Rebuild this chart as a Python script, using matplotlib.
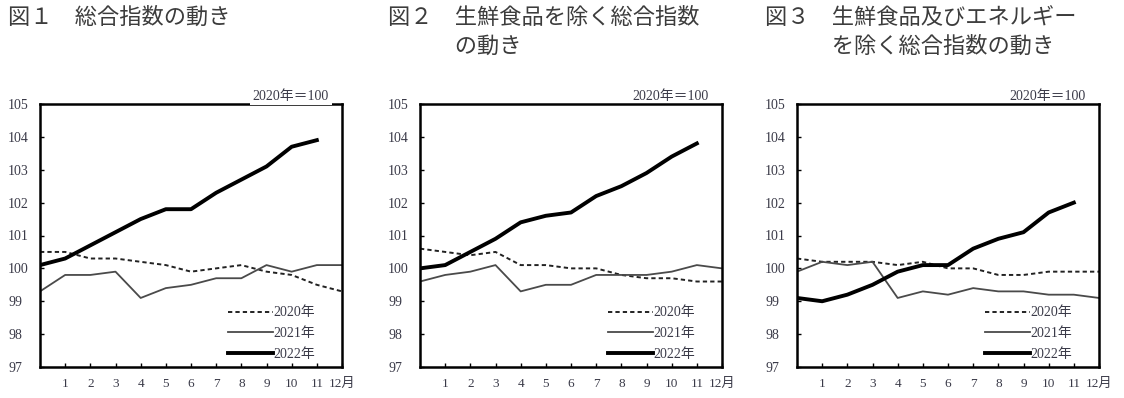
import numpy as np
import matplotlib.pyplot as plt

plt.rcParams['font.family'] = ['Liberation Serif', 'Noto Sans CJK JP']

months = np.arange(13)
tick_pos = np.arange(1, 13)
tick_labels = [str(m) for m in range(1, 12)] + ['12月']
series_names = ['2020年', '2021年', '2022年']

titles = ['図１　総合指数の動き',
          '図２　生鮮食品を除く総合指数\n　　　の動き',
          '図３　生鮮食品及びエネルギー\n　　　を除く総合指数の動き']

# 図1 総合
y2020_all = [100.5, 100.5, 100.3, 100.3, 100.2, 100.1, 99.9, 100.0, 100.1, 99.9, 99.8, 99.5, 99.3]
y2021_all = [99.3, 99.8, 99.8, 99.9, 99.1, 99.4, 99.5, 99.7, 99.7, 100.1, 99.9, 100.1, 100.1]
y2022_all = [100.1, 100.3, 100.7, 101.1, 101.5, 101.8, 101.8, 102.3, 102.7, 103.1, 103.7, 103.9]

# 図2 生鮮食品を除く
y2020_core = [100.6, 100.5, 100.4, 100.5, 100.1, 100.1, 100.0, 100.0, 99.8, 99.7, 99.7, 99.6, 99.6]
y2021_core = [99.6, 99.8, 99.9, 100.1, 99.3, 99.5, 99.5, 99.8, 99.8, 99.8, 99.9, 100.1, 100.0]
y2022_core = [100.0, 100.1, 100.5, 100.9, 101.4, 101.6, 101.7, 102.2, 102.5, 102.9, 103.4, 103.8]

# 図3 生鮮食品及びエネルギーを除く
y2020_cc = [100.3, 100.2, 100.2, 100.2, 100.1, 100.2, 100.0, 100.0, 99.8, 99.8, 99.9, 99.9, 99.9]
y2021_cc = [99.9, 100.2, 100.1, 100.2, 99.1, 99.3, 99.2, 99.4, 99.3, 99.3, 99.2, 99.2, 99.1]
y2022_cc = [99.1, 99.0, 99.2, 99.5, 99.9, 100.1, 100.1, 100.6, 100.9, 101.1, 101.7, 102.0]

panels = [(y2020_all, y2021_all, y2022_all),
          (y2020_core, y2021_core, y2022_core),
          (y2020_cc, y2021_cc, y2022_cc)]

W, H = 1124, 398
fig = plt.figure(figsize=(W / 100, H / 100), dpi=100)

ax_left = [40, 420, 797]
ax_w = 302
ax_top, ax_bot = 104, 367
title_x = [8, 388, 765]
label_col = '#3a3a48'

for i, (y20, y21, y22) in enumerate(panels):
    ax = fig.add_axes([ax_left[i] / W, 1 - ax_bot / H, ax_w / W, (ax_bot - ax_top) / H])
    ax.plot(months, y20, color='#222222', lw=1.4, ls=(0, (2.2, 1.6)), label=series_names[0])
    ax.plot(months, y21, color='#4a4a4a', lw=1.3, label=series_names[1])
    ax.plot(months[:len(y22)], y22, color='black', lw=2.8, label=series_names[2])

    ax.set_xlim(0, 12)
    ax.set_ylim(97, 105)
    ax.set_xticks(tick_pos)
    ax.set_xticklabels(tick_labels)
    ax.set_yticks(np.arange(97, 106))
    ax.tick_params(direction='in', length=3, width=1, labelsize=10, labelcolor=label_col,
                   colors='black')
    ax.tick_params(axis='y', pad=23)
    ax.tick_params(axis='x', pad=8, labelsize=9.5)
    for lbl in ax.get_yticklabels():
        lbl.set_horizontalalignment('left')
    for s in ax.spines.values():
        s.set_linewidth(1.8)

    leg = ax.legend(loc='lower right', bbox_to_anchor=(0.93, 0.003), frameon=False,
                    handlelength=3.2, handletextpad=0.05, labelspacing=0.55,
                    fontsize=10, borderaxespad=0.0)
    for t in leg.get_texts():
        t.set_color(label_col)

    bb = dict(facecolor='white', edgecolor='none', pad=2) if i == 0 else None
    ax.text(0.957, 1.03, '2020年＝100', transform=ax.transAxes, ha='right', va='center',
            fontsize=10, color=label_col, bbox=bb)

    fig.text(title_x[i] / W, 1 - 6 / H, titles[i], ha='left', va='top',
             fontsize=16, color='#3c3c3c', family=['Noto Sans CJK JP'], linespacing=1.3)

fig.savefig('out.png', dpi=100)
